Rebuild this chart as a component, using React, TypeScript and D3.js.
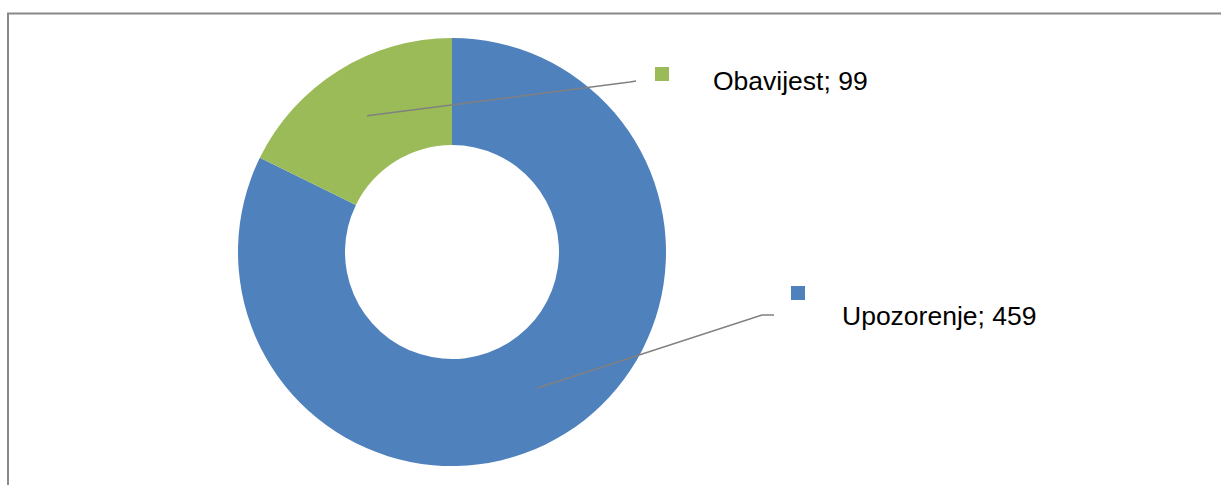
import React, { useEffect, useRef } from 'react';
import * as d3 from 'd3';

// chart data
const categories = ['Upozorenje', 'Obavijest'];
const counts = [459, 99];
const colors = ['#4F81BD', '#9BBB59'];

// label layout (leader elbow, marker, text) per slice
const labelLayout = [
  { elbow: [762, 315], end: [774, 315], marker: [791, 286], text: [842, 325] },
  { elbow: [630, 82], end: [636, 81], marker: [655, 67], text: [713, 90] },
];

export default function App() {
  const svgRef = useRef<SVGSVGElement | null>(null);

  useEffect(() => {
    if (!svgRef.current) return;
    const svg = d3.select(svgRef.current);
    svg.selectAll('*').remove();

    const width = 1221;
    const height = 485;
    const cx = 452;
    const cy = 252;
    const outerR = 214;
    const innerR = 107;

    svg.append('rect').attr('width', width).attr('height', height).attr('fill', '#fff');

    // chart frame (only top and left edges are inside the crop)
    svg.append('path')
      .attr('d', `M8,${height} L8,13.5 L${width},13.5`)
      .attr('fill', 'none')
      .attr('stroke', '#898989')
      .attr('stroke-width', 2);

    const data = categories.map((c, i) => ({ name: c, value: counts[i], color: colors[i] }));
    const pie = d3.pie<typeof data[number]>().sort(null).value(d => d.value);
    const arc = d3.arc<d3.PieArcDatum<typeof data[number]>>()
      .innerRadius(innerR)
      .outerRadius(outerR);

    const g = svg.append('g').attr('transform', `translate(${cx},${cy})`);
    const arcs = pie(data);

    g.selectAll('path.slice')
      .data(arcs)
      .join('path')
      .attr('class', 'slice')
      .attr('d', arc)
      .attr('fill', d => d.data.color);

    // leader lines from centroid
    arcs.forEach((a, i) => {
      const [x0, y0] = arc.centroid(a);
      const L = labelLayout[i];
      svg.append('polyline')
        .attr('points', `${cx + x0},${cy + y0} ${L.elbow[0]},${L.elbow[1]} ${L.end[0]},${L.end[1]}`)
        .attr('fill', 'none')
        .attr('stroke', '#808080')
        .attr('stroke-width', 1.5);

      svg.append('rect')
        .attr('x', L.marker[0])
        .attr('y', L.marker[1])
        .attr('width', 14)
        .attr('height', 14)
        .attr('fill', a.data.color);

      svg.append('text')
        .attr('x', L.text[0])
        .attr('y', L.text[1])
        .attr('font-family', '"Liberation Sans", Arial, sans-serif')
        .attr('font-size', 26.5)
        .attr('fill', '#000')
        .text(`${a.data.name}; ${a.data.value}`);
    });
  }, []);

  return (
    <div style={{ position: 'absolute', left: 0, top: 0 }}>
      <svg ref={svgRef} width={1221} height={485} style={{ display: 'block' }}></svg>
    </div>
  );
}
